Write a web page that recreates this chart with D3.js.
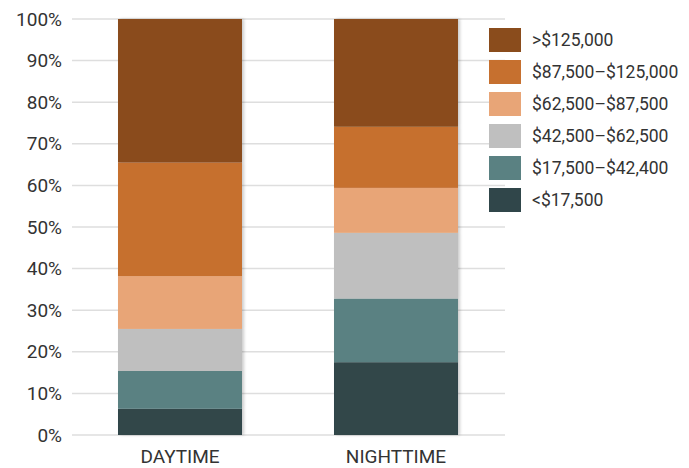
<!DOCTYPE html>
<html>
<head>
<meta charset="utf-8">
<script src="https://cdn.jsdelivr.net/npm/d3@7"></script>
<style>
  body { margin: 0; background: #fff; overflow: hidden; }
  svg { display: block; }
  text { font-family: Roboto, "DejaVu Sans", sans-serif; }
</style>
</head>
<body>
<svg id="chart"></svg>
<script>
const periods = ["DAYTIME", "NIGHTTIME"];
const incomeBands = ["<$17,500", "$17,500\u2013$42,400", "$42,500\u2013$62,500", "$62,500\u2013$87,500", "$87,500\u2013$125,000", ">$125,000"];
const daytime = [6.3, 9.1, 10.1, 12.7, 27.3, 34.5];
const nighttime = [17.5, 15.3, 15.8, 10.8, 14.7, 25.9];
const bandColors = ["#30464a", "#5a8182", "#bfbfbf", "#e8a577", "#c6702f", "#8a4c1c"];
const yTicks = [0, 10, 20, 30, 40, 50, 60, 70, 80, 90, 100];

const width = 689;
const height = 468;
const margin = { top: 19, right: 184, bottom: 33, left: 72 };

const svg = d3.select("#chart").attr("width", width).attr("height", height);

const innerWidth = width - margin.left - margin.right;
const innerHeight = height - margin.top - margin.bottom;

const chartArea = svg.append("g").attr("transform", `translate(${margin.left},${margin.top})`);

// build rows for stacking
const rows = periods.map((p, i) => {
  const vals = i === 0 ? daytime : nighttime;
  const row = { period: p };
  incomeBands.forEach((b, j) => (row[b] = vals[j]));
  return row;
});
const stacked = d3.stack().keys(incomeBands)(rows);

// Scales
const xScale = d3.scaleBand().domain(periods).range([0, 432]).paddingInner(0.426).paddingOuter(0.213);
const yScale = d3.scaleLinear().domain([0, 100]).range([innerHeight, 0]);
const color = d3.scaleOrdinal().domain(incomeBands).range(bandColors);

// Gridlines
chartArea
  .append("g")
  .selectAll("line")
  .data(yTicks)
  .enter()
  .append("line")
  .attr("x1", 0)
  .attr("x2", 433)
  .attr("y1", (d) => yScale(d))
  .attr("y2", (d) => yScale(d))
  .attr("stroke", "#dedede")
  .attr("stroke-width", 1.5);

// Y axis labels
const yAxis = chartArea
  .append("g")
  .call(d3.axisLeft(yScale).tickValues(yTicks).tickFormat((d) => d + "%").tickSize(0).tickPadding(10));
yAxis.select(".domain").remove();
yAxis.selectAll("text").style("font-size", "19px").style("fill", "#333");

// X axis labels
const xAxis = chartArea
  .append("g")
  .attr("transform", `translate(0,${innerHeight})`)
  .call(d3.axisBottom(xScale).tickSize(0).tickPadding(15));
xAxis.select(".domain").remove();
xAxis.selectAll("text").style("font-size", "19px").style("fill", "#333");

// soft shadow
const defs = svg.append("defs");
defs
  .append("filter")
  .attr("id", "shadow")
  .attr("x", "-10%")
  .attr("width", "130%")
  .append("feDropShadow")
  .attr("dx", 2)
  .attr("dy", 0)
  .attr("stdDeviation", 1.5)
  .attr("flood-color", "#000")
  .attr("flood-opacity", 0.2);

// Bars
const barGroup = chartArea.append("g").attr("filter", "url(#shadow)");
barGroup
  .selectAll("g")
  .data(stacked)
  .enter()
  .append("g")
  .attr("fill", (d) => color(d.key))
  .selectAll("rect")
  .data((d) => d)
  .enter()
  .append("rect")
  .attr("x", (d) => xScale(d.data.period))
  .attr("width", xScale.bandwidth())
  .attr("y", (d) => yScale(d[1]))
  .attr("height", (d) => yScale(d[0]) - yScale(d[1]));

// Legend
const legend = svg.append("g").attr("transform", "translate(489,28)");
const legendItems = legend
  .selectAll("g")
  .data(incomeBands.slice().reverse())
  .enter()
  .append("g")
  .attr("transform", (d, i) => `translate(0,${i * 32})`);

legendItems.append("rect").attr("width", 32).attr("height", 24).attr("fill", (d) => color(d));

legendItems
  .append("text")
  .attr("x", 43)
  .attr("y", 12)
  .attr("dy", "0.35em")
  .style("font-size", "17.5px")
  .style("fill", "#333")
  .text((d) => d);
</script>
</body>
</html>
